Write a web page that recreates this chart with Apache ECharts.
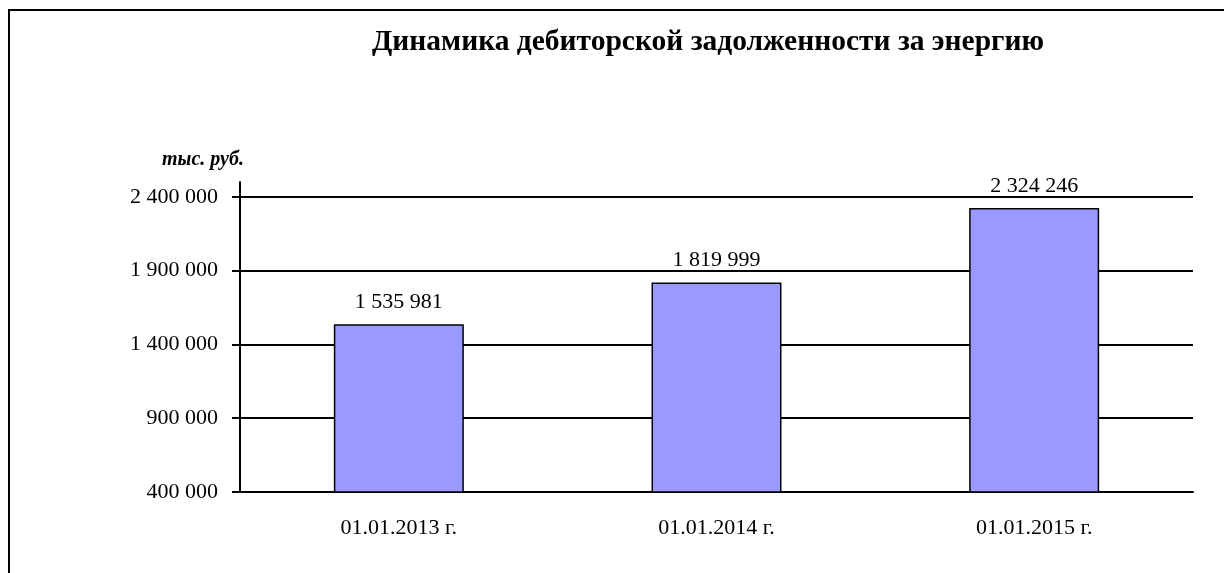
<!DOCTYPE html>
<html>
<head>
<meta charset="utf-8">
<script src="https://cdn.jsdelivr.net/npm/echarts@6/dist/echarts.min.js"></script>
<style>
    html, body { margin: 0; padding: 0; background: #fff; }
    #frame {
        position: absolute; left: 8px; top: 9px; width: 1400px; height: 800px;
        border-left: 2px solid #000; border-top: 2px solid #000;
    }
    #chart { position: absolute; left: 0; top: 0; width: 1224px; height: 573px; }
</style>
</head>
<body>
<div id="frame"></div>
<div id="chart"></div>
<script>
// Дебиторская задолженность за энергию, тыс. руб.
const categories = ['01.01.2013 г.', '01.01.2014 г.', '01.01.2015 г.'];
const debtValues = [1535981, 1819999, 2324246];
const yTicks = [400000, 900000, 1400000, 1900000, 2400000];

const FONT = "'Liberation Serif', 'Times New Roman', serif";

// 1 535 981
function fmt(v) {
    return String(Math.round(v)).replace(/\B(?=(\d{3})+(?!\d))/g, ' ');
}

function initChart() {
    const chart = echarts.init(document.getElementById('chart'));

    const option = {
        animation: false,
        title: [
            {
                text: 'Динамика дебиторской задолженности за энергию',
                left: 367,
                top: 22,
                textStyle: {
                    fontFamily: FONT,
                    fontSize: 29.5,
                    fontWeight: 'bold',
                    color: '#000'
                }
            },
            {
                text: 'тыс. руб.',
                left: 157,
                top: 145,
                textStyle: {
                    fontFamily: FONT,
                    fontSize: 20,
                    fontStyle: 'italic',
                    fontWeight: 'bold',
                    color: '#000'
                }
            }
        ],
        grid: {
            left: 240,
            right: 31,
            top: 182,
            bottom: 81
        },
        xAxis: {
            type: 'category',
            data: categories,
            axisLine: { lineStyle: { color: '#000', width: 2 } },
            axisTick: { length: 8, lineStyle: { color: '#000', width: 2 } },
            axisLabel: {
                fontFamily: FONT,
                fontSize: 22,
                color: '#000',
                margin: 25
            }
        },
        yAxis: {
            type: 'value',
            min: 400000,
            max: 2500000,
            interval: 500000,
            axisLine: { show: true, lineStyle: { color: '#000', width: 2 } },
            axisTick: {
                show: true,
                length: 8,
                customValues: yTicks,
                lineStyle: { color: '#000', width: 2 }
            },
            axisLabel: {
                fontFamily: FONT,
                fontSize: 22,
                color: '#000',
                margin: 22,
                customValues: yTicks,
                formatter: function (v) {
                    return yTicks.indexOf(v) >= 0 ? fmt(v) : '';
                }
            },
            splitLine: {
                show: true,
                lineStyle: {
                    color: ['#000', '#000', '#000', '#000', '#000', 'rgba(0,0,0,0)'],
                    width: 2
                }
            }
        },
        series: [
            {
                name: 'Задолженность',
                type: 'bar',
                data: debtValues,
                barWidth: 130,
                itemStyle: {
                    color: '#9999FF',
                    borderColor: '#000',
                    borderWidth: 1.5
                },
                label: {
                    show: true,
                    position: 'top',
                    distance: 11,
                    fontFamily: FONT,
                    fontSize: 22,
                    color: '#000',
                    formatter: function (p) { return fmt(p.value); }
                }
            }
        ]
    };

    chart.setOption(option);
    window.addEventListener('resize', () => chart.resize());
}

document.addEventListener('DOMContentLoaded', function () {
    initChart();
});
</script>
</body>
</html>
